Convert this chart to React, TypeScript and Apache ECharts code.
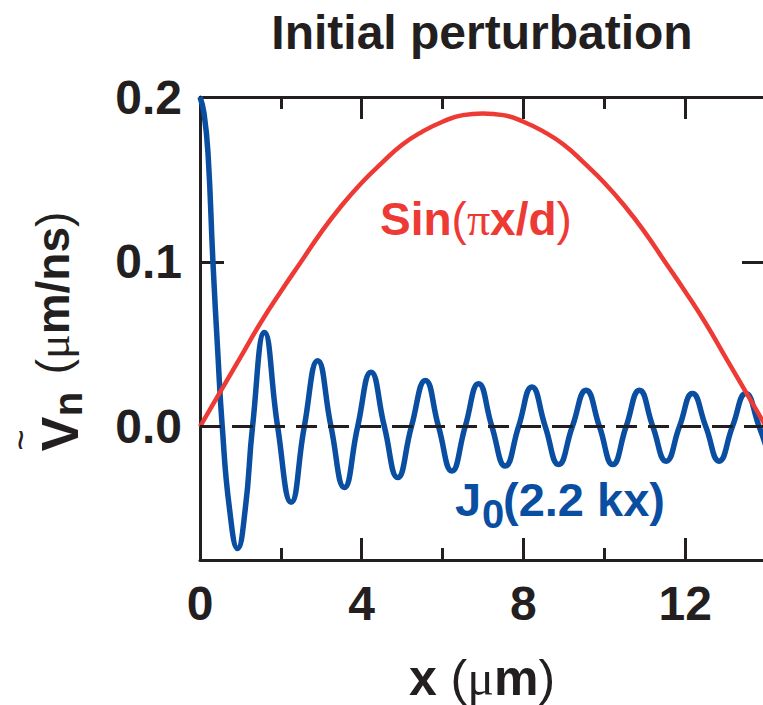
import React, { useEffect, useRef } from "react";
import * as echarts from "echarts";

// ---- data ----
const sinX = [0, 0.5, 1, 1.5, 2, 2.5, 3, 3.5, 4, 4.5, 5, 5.5, 6, 6.5, 7, 7.5, 8, 8.5, 9, 9.5, 10, 10.5, 11, 11.5, 12, 12.5, 13, 13.5, 14];
const sinV = [
  0, 0.021, 0.042, 0.063, 0.082, 0.1, 0.118, 0.134, 0.148, 0.16, 0.171, 0.179, 0.185, 0.189, 0.19,
  0.189, 0.185, 0.179, 0.171, 0.16, 0.148, 0.134, 0.118, 0.1, 0.082, 0.063, 0.042, 0.021, 0,
];

const besselX = [
  0, 0.1, 0.2, 0.32, 0.44, 0.55, 0.73, 0.93, 1.12, 1.3, 1.595, 1.92, 2.255, 2.58, 2.91, 3.24, 3.57, 3.9, 4.23,
  4.56, 4.89, 5.23, 5.575, 5.9, 6.23, 6.56, 6.89, 7.22, 7.55, 7.88, 8.21, 8.54, 8.87, 9.21, 9.55, 9.88, 10.21,
  10.54, 10.87, 11.2, 11.53, 11.86, 12.18, 12.51, 12.84, 13.17, 13.5, 13.83, 14.0,
];
const besselV = [
  0.2, 0.19, 0.165, 0.1, 0.045, 0, -0.05, -0.074, -0.05, 0, 0.057, 0, -0.046, 0, 0.04, 0, -0.037, 0, 0.033,
  0, -0.031, 0, 0.028, 0, -0.027, 0, 0.026, 0, -0.024, 0, 0.024, 0, -0.023, 0, 0.022, 0, -0.023,
  0, 0.022, 0, -0.021, 0, 0.02, 0, -0.021, 0, 0.02, 0, -0.012,
];

const xMajorInterval = 4;
const xMinorTicks = [2, 6, 10];
const yLabelValues = [0, 0.1, 0.2];
const yTickValues = [0, 0.1, 0.2];
const yRightTickValues = [0.1];
const zeroLevel = 0;

const FONT = '"Liberation Sans", Arial, Helvetica, sans-serif';
const SERIF = '"Liberation Serif", "DejaVu Serif", serif';
const INK = "#231f20";
const RED = "#ee3a35";
const BLUE = "#0a4ea2";

export default function App() {
  const ref = useRef<HTMLDivElement>(null);
  useEffect(() => {
    const chart = echarts.init(ref.current!, null, { renderer: "svg" });
    const gridRect = { left: 200, top: 97, width: 566, height: 463, containLabel: false, outerBoundsMode: "none" };
    const axisLine = { show: true, onZero: false, lineStyle: { color: INK, width: 3 } };
    const majorX = (pos: "bottom" | "top", labels: boolean) => ({
      type: "value",
      gridIndex: 0,
      position: pos,
      min: 0,
      max: 14,
      interval: xMajorInterval,
      axisLine,
      axisTick: { show: true, inside: true, length: 22, lineStyle: { color: INK, width: 3 } },
      splitLine: { show: false },
      axisLabel: {
        show: labels,
        margin: 19,
        fontSize: 48,
        fontWeight: "bold",
        fontFamily: FONT,
        color: INK,
        formatter: (v: number) => (v < 14 ? String(v) : ""),
      },
    });
    const minorX = (pos: "bottom" | "top") => ({
      type: "value",
      gridIndex: 1,
      position: pos,
      min: 0,
      max: 14,
      axisLine: { show: false, onZero: false },
      axisTick: {
        show: true,
        inside: true,
        length: 12,
        customValues: xMinorTicks,
        lineStyle: { color: INK, width: 3 },
      },
      splitLine: { show: false },
      axisLabel: { show: false },
    });
    chart.setOption({
      animation: false,
      textStyle: { fontFamily: FONT },
      grid: [gridRect, { ...gridRect }],
      xAxis: [majorX("bottom", true), majorX("top", false), minorX("bottom"), minorX("top")],
      yAxis: [
        {
          type: "value",
          gridIndex: 0,
          position: "left",
          min: -0.081,
          max: 0.2,
          axisLine,
          axisTick: {
            show: true,
            inside: true,
            length: 24,
            customValues: yTickValues,
            lineStyle: { color: INK, width: 3 },
          },
          splitLine: { show: false },
          axisLabel: {
            show: true,
            customValues: yLabelValues,
            margin: 18,
            fontSize: 48,
            fontWeight: "bold",
            fontFamily: FONT,
            color: INK,
            formatter: (v: number) => v.toFixed(1),
          },
        },
        {
          type: "value",
          gridIndex: 0,
          position: "right",
          min: -0.081,
          max: 0.2,
          axisLine,
          axisTick: {
            show: true,
            inside: true,
            length: 24,
            customValues: yRightTickValues,
            lineStyle: { color: INK, width: 3 },
          },
          splitLine: { show: false },
          axisLabel: { show: false },
        },
        {
          type: "value",
          gridIndex: 1,
          min: -0.081,
          max: 0.2,
          show: false,
          axisLine: { show: false, onZero: false },
        },
      ],
      series: [
        {
          type: "line",
          name: "zero",
          xAxisIndex: 0,
          yAxisIndex: 0,
          data: [],
          z: 1,
          markLine: {
            silent: true,
            symbol: "none",
            label: { show: false },
            lineStyle: { color: INK, width: 3, type: [21, 11] },
            data: [{ yAxis: zeroLevel }],
          },
        },
        {
          type: "line",
          name: "J0",
          xAxisIndex: 0,
          yAxisIndex: 0,
          z: 2,
          data: besselX.map((x, i) => [x, besselV[i]]),
          smooth: true,
          showSymbol: false,
          symbol: "none",
          lineStyle: { color: BLUE, width: 5.5 },
        },
        {
          type: "line",
          name: "Sin",
          xAxisIndex: 0,
          yAxisIndex: 0,
          z: 3,
          data: sinX.map((x, i) => [x, sinV[i]]),
          smooth: true,
          showSymbol: false,
          symbol: "none",
          lineStyle: { color: RED, width: 4.5 },
        },
      ],
      graphic: [
        {
          type: "text",
          x: 482,
          y: 32,
          style: {
            text: "Initial perturbation",
            font: `bold 48px ${FONT}`,
            fill: INK,
            textAlign: "center",
            textVerticalAlign: "middle",
          },
        },
        {
          type: "text",
          x: 482,
          y: 678,
          style: {
            text: "{b|x }{p|(}{mu|μ}{b|m}{p|)}",
            fill: INK,
            textAlign: "center",
            textVerticalAlign: "middle",
            rich: {
              b: { fontSize: 50, fontWeight: "bold", fontFamily: FONT, fill: INK, color: INK },
              p: { fontSize: 50, fontWeight: "normal", fontFamily: FONT, fill: INK, color: INK },
              mu: { fontSize: 50, fontWeight: "normal", fontFamily: SERIF, fill: INK, color: INK },
            },
          },
        },
        // y-axis title pieces (rotated)
        {
          type: "text",
          x: 53,
          y: 293,
          rotation: Math.PI / 2,
          style: {
            text: "{p|(}{mu|μ}{b|m/ns}{p|)}",
            fill: INK,
            textAlign: "center",
            textVerticalAlign: "middle",
            rich: {
              b: { fontSize: 46, fontWeight: "bold", fontFamily: FONT, fill: INK, color: INK },
              p: { fontSize: 46, fontWeight: "normal", fontFamily: FONT, fill: INK, color: INK },
              mu: { fontSize: 46, fontWeight: "normal", fontFamily: SERIF, fill: INK, color: INK },
            },
          },
        },
        {
          type: "text",
          x: 60,
          y: 434,
          rotation: Math.PI / 2,
          style: {
            text: "V",
            font: `bold 52px ${FONT}`,
            fill: INK,
            textAlign: "center",
            textVerticalAlign: "middle",
          },
        },
        {
          type: "text",
          x: 68,
          y: 404,
          rotation: Math.PI / 2,
          style: {
            text: "n",
            font: `bold 40px ${FONT}`,
            fill: INK,
            textAlign: "center",
            textVerticalAlign: "middle",
          },
        },
        {
          type: "text",
          x: 20,
          y: 440,
          rotation: Math.PI / 2,
          style: {
            text: "~",
            font: `normal 36px ${FONT}`,
            fill: INK,
            textAlign: "center",
            textVerticalAlign: "middle",
          },
        },
        // curve annotations
        {
          type: "text",
          x: 380,
          y: 219,
          style: {
            text: "{b|Sin}{p|(}{pi|π}{b|x/d}{p|)}",
            fill: RED,
            textAlign: "left",
            textVerticalAlign: "middle",
            rich: {
              b: { fontSize: 46, fontWeight: "bold", fontFamily: FONT, fill: RED, color: RED },
              p: { fontSize: 46, fontWeight: "normal", fontFamily: FONT, fill: RED, color: RED },
              pi: { fontSize: 46, fontWeight: "normal", fontFamily: SERIF, fill: RED, color: RED },
            },
          },
        },
        {
          type: "text",
          x: 455,
          y: 499,
          style: {
            text: "J",
            font: `bold 47px ${FONT}`,
            fill: BLUE,
            textAlign: "left",
            textVerticalAlign: "middle",
          },
        },
        {
          type: "text",
          x: 482,
          y: 514,
          style: {
            text: "0",
            font: `bold 40px ${FONT}`,
            fill: BLUE,
            textAlign: "left",
            textVerticalAlign: "middle",
          },
        },
        {
          type: "text",
          x: 503,
          y: 499,
          style: {
            text: "(2.2 kx)",
            font: `bold 47px ${FONT}`,
            fill: BLUE,
            textAlign: "left",
            textVerticalAlign: "middle",
          },
        },
      ],
    });
    return () => chart.dispose();
  }, []);
  return (
    <div
      ref={ref}
      style={{ position: "fixed", left: 0, top: 0, width: 763, height: 705, background: "#fff" }}
    />
  );
}
